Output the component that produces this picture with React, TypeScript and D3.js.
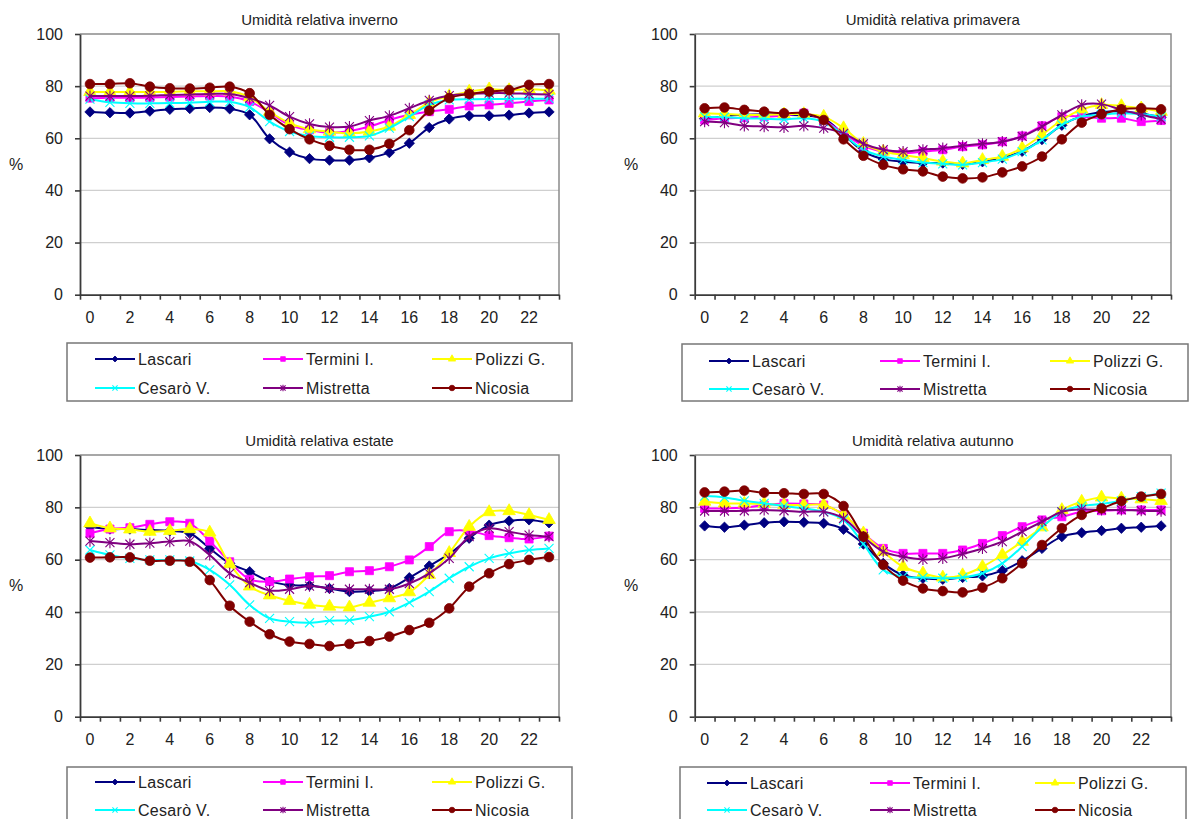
import React, { useEffect, useRef } from "react";
import * as d3 from "d3";

// hours of the day (category axis)
const hours = d3.range(24);
const hourLabels = hours.filter(h => h % 2 === 0);
const yTicks = [0, 20, 40, 60, 80, 100];

const stations = ["Lascari", "Termini I.", "Polizzi G.", "Cesarò V.", "Mistretta", "Nicosia"];
const colors = ["#000080", "#ff00ff", "#ffff00", "#00ffff", "#800080", "#800000"];
const markers = ["diamond", "square", "triangle", "x", "star", "circle"];

const titles = [
  "Umidità relativa inverno",
  "Umidità relativa primavera",
  "Umidità relativa estate",
  "Umidità relativa autunno",
];

// inverno
const invLascari = [70.1, 69.8, 69.7, 70.4, 71.1, 71.4, 71.8, 71.3, 69.0, 59.8, 54.7, 52.2, 51.6, 51.6, 52.5, 54.5, 58.1, 64.1, 67.4, 68.6, 68.6, 68.9, 69.7, 70.1];
const invTermini = [75.4, 75.5, 75.5, 75.6, 75.8, 76.0, 76.2, 76.0, 74.1, 69.9, 65.1, 63.2, 62.2, 62.8, 64.5, 67.0, 69.0, 70.2, 71.1, 72.4, 72.8, 73.4, 74.1, 74.7];
const invPolizzi = [77.8, 77.8, 77.8, 77.8, 77.8, 78.0, 78.0, 78.0, 75.7, 70.2, 65.8, 63.5, 62.6, 61.9, 62.6, 64.5, 69.0, 73.7, 76.2, 77.9, 78.8, 78.5, 78.8, 78.3];
const invCesaro = [75.0, 73.8, 73.4, 73.4, 73.5, 73.6, 74.0, 74.0, 71.9, 66.4, 62.6, 60.9, 60.4, 60.4, 60.9, 63.9, 68.3, 72.8, 74.7, 75.0, 75.1, 75.1, 75.2, 75.2];
const invMistretta = [76.2, 76.2, 76.2, 76.3, 76.6, 76.8, 77.0, 77.0, 75.4, 72.6, 68.3, 65.5, 64.3, 64.5, 66.8, 68.6, 71.5, 74.5, 76.4, 77.0, 77.3, 77.3, 77.0, 76.8];
const invNicosia = [80.8, 80.8, 81.1, 79.8, 79.2, 79.1, 79.4, 79.8, 77.3, 69.0, 63.5, 59.6, 57.1, 55.6, 55.6, 57.9, 63.1, 70.6, 75.4, 77.0, 77.9, 78.5, 80.5, 80.8];

// primavera
const priLascari = [67.5, 68.5, 69.0, 69.2, 69.0, 68.8, 67.5, 61.5, 55.0, 52.0, 51.0, 50.5, 50.5, 50.0, 51.0, 52.5, 55.0, 59.5, 65.0, 68.5, 70.0, 70.3, 69.5, 68.0];
const priTermini = [67.0, 67.7, 67.9, 68.3, 68.6, 69.6, 67.0, 61.9, 57.1, 54.9, 54.3, 54.9, 55.6, 56.8, 57.5, 58.7, 60.9, 64.8, 68.3, 68.3, 67.7, 67.7, 66.4, 66.8];
const priPolizzi = [69.6, 69.3, 69.0, 69.0, 69.2, 69.3, 68.3, 63.9, 57.9, 54.9, 53.6, 52.4, 51.1, 50.4, 51.7, 53.0, 56.2, 61.3, 67.0, 71.1, 72.8, 72.4, 71.5, 70.2];
const priCesaro = [68.3, 68.1, 67.7, 67.5, 67.3, 67.7, 66.4, 61.3, 55.6, 53.0, 51.7, 50.7, 50.2, 49.8, 50.7, 52.0, 54.9, 59.4, 65.1, 68.3, 69.0, 69.6, 69.2, 68.3];
const priMistretta = [66.4, 66.0, 64.8, 64.5, 64.2, 64.8, 63.9, 61.9, 57.9, 55.6, 54.9, 55.6, 56.2, 57.1, 57.9, 58.7, 60.7, 64.5, 69.0, 72.8, 73.1, 70.9, 69.0, 67.3];
const priNicosia = [71.5, 71.8, 70.9, 70.2, 69.6, 69.6, 67.0, 59.6, 53.3, 49.8, 48.1, 47.3, 45.3, 44.6, 45.0, 46.9, 49.2, 53.0, 59.6, 66.0, 69.2, 71.1, 71.5, 71.1];

// estate
const estLascari = [72.6, 71.7, 71.7, 71.3, 71.0, 70.1, 64.3, 58.6, 55.4, 51.8, 50.3, 50.1, 49.0, 47.8, 48.0, 49.0, 53.1, 57.6, 62.2, 68.2, 73.2, 74.8, 75.2, 74.1];
const estTermini = [70.1, 71.7, 72.2, 73.5, 74.5, 73.9, 67.1, 59.2, 52.5, 51.6, 52.6, 53.5, 53.9, 55.4, 55.8, 57.3, 59.9, 65.0, 70.7, 71.0, 69.2, 68.4, 67.9, 69.0];
const estPolizzi = [73.9, 72.0, 71.6, 70.7, 71.0, 71.7, 70.4, 58.3, 49.8, 46.4, 44.3, 42.8, 42.1, 41.8, 43.6, 45.3, 47.6, 54.2, 62.6, 72.6, 78.2, 78.6, 77.1, 75.2];
const estCesaro = [63.7, 61.8, 60.5, 59.9, 59.9, 59.5, 56.1, 50.4, 42.7, 37.6, 36.3, 35.9, 36.7, 36.9, 38.2, 40.1, 43.6, 47.8, 52.9, 57.3, 60.5, 62.4, 63.7, 64.3];
const estMistretta = [67.1, 66.5, 65.9, 66.3, 66.9, 67.1, 61.8, 54.8, 51.2, 48.2, 48.7, 49.9, 49.0, 48.7, 48.7, 48.7, 50.9, 54.8, 60.5, 68.8, 72.0, 70.7, 69.4, 68.8];
const estNicosia = [60.8, 60.9, 60.9, 59.6, 59.6, 59.2, 52.2, 42.4, 36.3, 31.5, 28.7, 27.8, 27.0, 27.8, 28.9, 30.6, 33.1, 35.9, 41.4, 49.7, 54.8, 58.3, 59.9, 61.0];

// autunno
const autLascari = [72.9, 72.4, 73.2, 74.1, 74.5, 74.3, 73.9, 71.6, 66.0, 58.6, 54.1, 52.9, 52.5, 53.2, 53.8, 55.8, 59.6, 64.3, 68.8, 70.3, 71.1, 72.0, 72.4, 72.9];
const autTermini = [79.6, 79.6, 79.9, 80.9, 81.5, 81.3, 80.9, 77.1, 70.1, 64.3, 62.4, 62.4, 62.4, 63.7, 66.2, 69.2, 72.6, 75.2, 76.4, 78.3, 78.7, 79.0, 79.0, 79.0];
const autPolizzi = [82.2, 81.5, 81.5, 81.3, 80.9, 80.9, 80.9, 77.1, 70.1, 63.1, 57.3, 54.8, 53.2, 54.1, 57.3, 61.8, 66.9, 72.4, 79.0, 82.2, 83.8, 83.4, 83.1, 82.5];
const autCesaro = [84.3, 83.8, 82.5, 81.5, 80.5, 79.6, 78.3, 75.2, 66.0, 56.1, 53.5, 53.2, 52.9, 53.2, 54.8, 58.6, 65.0, 72.4, 78.3, 80.5, 81.3, 82.5, 84.1, 85.4];
const autMistretta = [78.6, 78.6, 78.7, 79.0, 78.7, 78.3, 78.3, 75.8, 68.8, 63.1, 61.1, 60.1, 60.5, 62.2, 64.3, 66.9, 70.7, 74.5, 78.3, 79.2, 79.0, 79.0, 78.7, 78.6];
const autNicosia = [85.7, 86.0, 86.4, 85.6, 85.4, 85.1, 85.1, 80.5, 68.8, 58.0, 52.0, 49.0, 48.0, 47.5, 49.3, 52.9, 58.6, 65.6, 72.0, 77.1, 79.6, 82.4, 84.1, 85.1];

const inverno = [invLascari, invTermini, invPolizzi, invCesaro, invMistretta, invNicosia];
const primavera = [priLascari, priTermini, priPolizzi, priCesaro, priMistretta, priNicosia];
const estate = [estLascari, estTermini, estPolizzi, estCesaro, estMistretta, estNicosia];
const autunno = [autLascari, autTermini, autPolizzi, autCesaro, autMistretta, autNicosia];

const FONT = "'Liberation Sans', Arial, sans-serif";

const panels = [
  { series: inverno, title: titles[0], left: 80, right: 559, top: 34, bottom: 294.7, pctX: 16,
    legend: { x: 67, y: 343, w: 505, h: 58, cols: [95, 263, 432], rows: [359, 388] } },
  { series: primavera, title: titles[1], left: 694.7, right: 1171, top: 34, bottom: 294.7, pctX: 631,
    legend: { x: 682, y: 344, w: 506, h: 57, cols: [709, 880, 1050], rows: [361, 389] } },
  { series: estate, title: titles[2], left: 80, right: 559, top: 455, bottom: 716.7, pctX: 16,
    legend: { x: 67, y: 767, w: 505, h: 70, cols: [95, 263, 432], rows: [782, 810] } },
  { series: autunno, title: titles[3], left: 694.7, right: 1171, top: 455, bottom: 716.7, pctX: 631,
    legend: { x: 680, y: 767, w: 506, h: 70, cols: [707, 870, 1035], rows: [783, 810] } },
];

// marker shapes, s = half size in px
const markerPath = (kind: string, s: number) => {
  if (kind === "diamond") return `M0,${-s * 1.15}L${s * 1.15},0L0,${s * 1.15}L${-s * 1.15},0Z`;
  if (kind === "x") return `M${-s},${-s}L${s},${s}M${-s},${s}L${s},${-s}`;
  if (kind === "star") return `M${-s},${-s}L${s},${s}M${-s},${s}L${s},${-s}M0,${-s * 1.25}L0,${s * 1.25}`;
  const type = kind === "square" ? d3.symbolSquare
    : kind === "triangle" ? d3.symbolTriangle
    : d3.symbolCircle;
  const size = kind === "square" ? 3.2 * s * s : kind === "triangle" ? 3.4 * s * s : 3.6 * s * s;
  return d3.symbol().type(type).size(size)() as string;
};

const drawMarker = (sel: any, kind: string, color: string, s: number) => {
  const open = kind === "x" || kind === "star";
  sel.append("path")
    .attr("d", markerPath(kind, s))
    .attr("fill", open ? "none" : color)
    .attr("stroke", color)
    .attr("stroke-width", open ? 1.1 : 0.8);
};

const Panel = ({ cfg }: any) => {
  const ref = useRef<SVGGElement>(null);

  useEffect(() => {
    const g = d3.select(ref.current);
    g.selectAll("*").remove();

    const x = d3.scaleBand().domain(hours.map(String)).range([cfg.left, cfg.right]).padding(0);
    const xb = d3.scaleLinear().domain([0, 24]).range([cfg.left, cfg.right]);
    const y = d3.scaleLinear().domain([0, 100]).range([cfg.bottom, cfg.top]);
    const cx = (i: number) => (x(String(i)) as number) + x.bandwidth() / 2;

    // gridlines
    g.selectAll("line.grid")
      .data(yTicks.filter(t => t > 0 && t < 100))
      .enter()
      .append("line")
      .attr("class", "grid")
      .attr("x1", cfg.left).attr("x2", cfg.right)
      .attr("y1", d => y(d)).attr("y2", d => y(d))
      .attr("stroke", "#cfcfcf")
      .attr("stroke-width", 1.3);

    // plot border
    g.append("path")
      .attr("d", `M${cfg.left},${cfg.top}H${cfg.right}V${cfg.bottom}`)
      .attr("fill", "none")
      .attr("stroke", "#8a8a8a")
      .attr("stroke-width", 1.5);

    // y axis
    const yAxis = g.append("g")
      .attr("transform", `translate(${cfg.left},0)`)
      .call(d3.axisLeft(y).tickValues(yTicks).tickSize(5).tickPadding(12).tickSizeOuter(0));
    yAxis.selectAll("text").attr("font-family", FONT).attr("font-size", 16).attr("fill", "#222");

    // x axis: ticks on category boundaries
    const xTicks = g.append("g")
      .attr("transform", `translate(0,${cfg.bottom})`)
      .call(d3.axisBottom(xb).tickValues(d3.range(25)).tickFormat(() => "").tickSize(5).tickSizeOuter(0));
    const xLab = g.append("g")
      .attr("transform", `translate(0,${cfg.bottom})`)
      .call(d3.axisBottom(x).tickValues(hourLabels.map(String)).tickSize(0).tickPadding(17));
    xLab.select(".domain").remove();
    xLab.selectAll("text").attr("font-family", FONT).attr("font-size", 16).attr("fill", "#222");
    [yAxis, xTicks].forEach(a => {
      a.selectAll("line").attr("stroke", "#3a3a3a").attr("stroke-width", 1.6);
      a.select(".domain").attr("stroke", "#3a3a3a").attr("stroke-width", 1.8);
    });

    // title and unit
    g.append("text")
      .attr("x", (cfg.left + cfg.right) / 2)
      .attr("y", cfg.top - 9)
      .attr("text-anchor", "middle")
      .attr("font-family", FONT).attr("font-size", 15).attr("fill", "#222")
      .text(cfg.title);
    g.append("text")
      .attr("x", cfg.pctX)
      .attr("y", y(50))
      .attr("dy", "0.35em")
      .attr("text-anchor", "middle")
      .attr("font-family", FONT).attr("font-size", 16).attr("fill", "#222")
      .text("%");

    // series
    const line = d3.line<number>()
      .x((d, i) => cx(i))
      .y(d => y(d))
      .curve(d3.curveCatmullRom.alpha(0.5));

    cfg.series.forEach((vals: number[], k: number) => {
      const sg = g.append("g").attr("class", "series");
      sg.append("path")
        .attr("d", line(vals))
        .attr("fill", "none")
        .attr("stroke", colors[k])
        .attr("stroke-width", 2);
      vals.forEach((v, i) => {
        const m = sg.append("g").attr("transform", `translate(${cx(i)},${y(v)})`);
        drawMarker(m, markers[k], colors[k], 4.5);
      });
    });

    // legend
    const L = cfg.legend;
    const lg = g.append("g");
    lg.append("rect")
      .attr("x", L.x).attr("y", L.y).attr("width", L.w).attr("height", L.h)
      .attr("fill", "white").attr("stroke", "#777").attr("stroke-width", 1.5);
    stations.forEach((name, k) => {
      const lx = L.cols[k % 3];
      const ly = L.rows[Math.floor(k / 3)];
      lg.append("line")
        .attr("x1", lx).attr("x2", lx + 40).attr("y1", ly).attr("y2", ly)
        .attr("stroke", colors[k]).attr("stroke-width", 2);
      const m = lg.append("g").attr("transform", `translate(${lx + 20},${ly})`);
      drawMarker(m, markers[k], colors[k], 2.6);
      lg.append("text")
        .attr("x", lx + 43).attr("y", ly).attr("dy", "0.35em")
        .attr("font-family", FONT).attr("font-size", 16).attr("fill", "#222")
        .attr("letter-spacing", 0.3)
        .text(name);
    });
  }, [cfg]);

  return <g ref={ref} />;
};

const App = () => (
  <svg
    width={1193}
    height={819}
    style={{ position: "absolute", left: 0, top: 0, background: "white" }}
  >
    {panels.map((p, i) => <Panel key={i} cfg={p} />)}
  </svg>
);

export default App;
